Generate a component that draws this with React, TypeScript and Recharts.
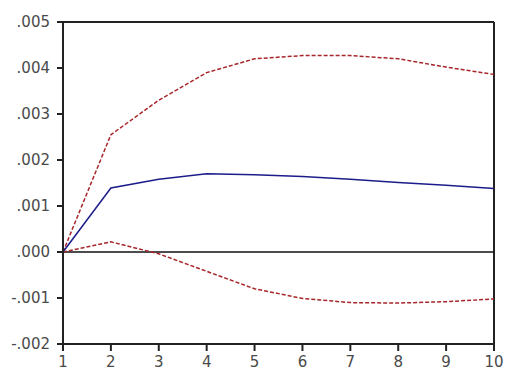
import React from "react";
import { LineChart, Line, XAxis, YAxis, ReferenceLine } from "recharts";

const periods = [1, 2, 3, 4, 5, 6, 7, 8, 9, 10];
const response = [0, 0.00139, 0.00158, 0.0017, 0.00168, 0.00164, 0.00158, 0.00151, 0.00145, 0.00138];
const upper = [0, 0.00255, 0.0033, 0.0039, 0.0042, 0.00427, 0.00427, 0.0042, 0.00402, 0.00386];
const lower = [0, 0.00022, -0.00004, -0.00042, -0.0008, -0.00101, -0.0011, -0.00111, -0.00108, -0.00102];
const yTicks = [-0.002, -0.001, 0, 0.001, 0.002, 0.003, 0.004, 0.005];
const yLabels = ["-.002", "-.001", ".000", ".001", ".002", ".003", ".004", ".005"];

const data = periods.map((p, i) => ({ p, r: response[i], u: upper[i], l: lower[i] }));

const fmtY = (v: number) => {
  const idx = yTicks.findIndex((t) => Math.abs(t - v) < 1e-9);
  return idx >= 0 ? yLabels[idx] : String(v);
};

export default function App() {
  const tickStyle = { fontFamily: "DejaVu Sans, sans-serif", fontSize: 15, fill: "#4a4a4a" };
  const axisStroke = { stroke: "#222", strokeWidth: 2 };
  return (
    <div style={{ position: "absolute", left: 0, top: 0, width: 505, height: 372, background: "#fff" }}>
      <LineChart width={505} height={372} data={data} margin={{ top: 22, right: 11, bottom: 0, left: 0 }}>
        <XAxis
          dataKey="p"
          type="number"
          domain={[1, 10]}
          ticks={periods}
          height={28}
          tick={tickStyle}
          tickSize={7}
          tickMargin={5}
          axisLine={axisStroke}
          tickLine={axisStroke}
        />
        <YAxis
          type="number"
          domain={[-0.002, 0.005]}
          ticks={yTicks}
          tickFormatter={fmtY}
          width={63}
          tick={tickStyle}
          tickSize={6}
          tickMargin={7}
          axisLine={axisStroke}
          tickLine={axisStroke}
        />
        <ReferenceLine y={0.005} stroke="#222" strokeWidth={2} />
        <ReferenceLine x={10} stroke="#222" strokeWidth={2} />
        <ReferenceLine y={0} stroke="#111" strokeWidth={1.5} />
        <Line dataKey="u" stroke="#a8262a" strokeWidth={1.5} strokeDasharray="4 2" dot={false} isAnimationActive={false} />
        <Line dataKey="l" stroke="#a8262a" strokeWidth={1.5} strokeDasharray="4 2" dot={false} isAnimationActive={false} />
        <Line dataKey="r" stroke="#1c1c8a" strokeWidth={1.5} dot={false} isAnimationActive={false} />
      </LineChart>
    </div>
  );
}
